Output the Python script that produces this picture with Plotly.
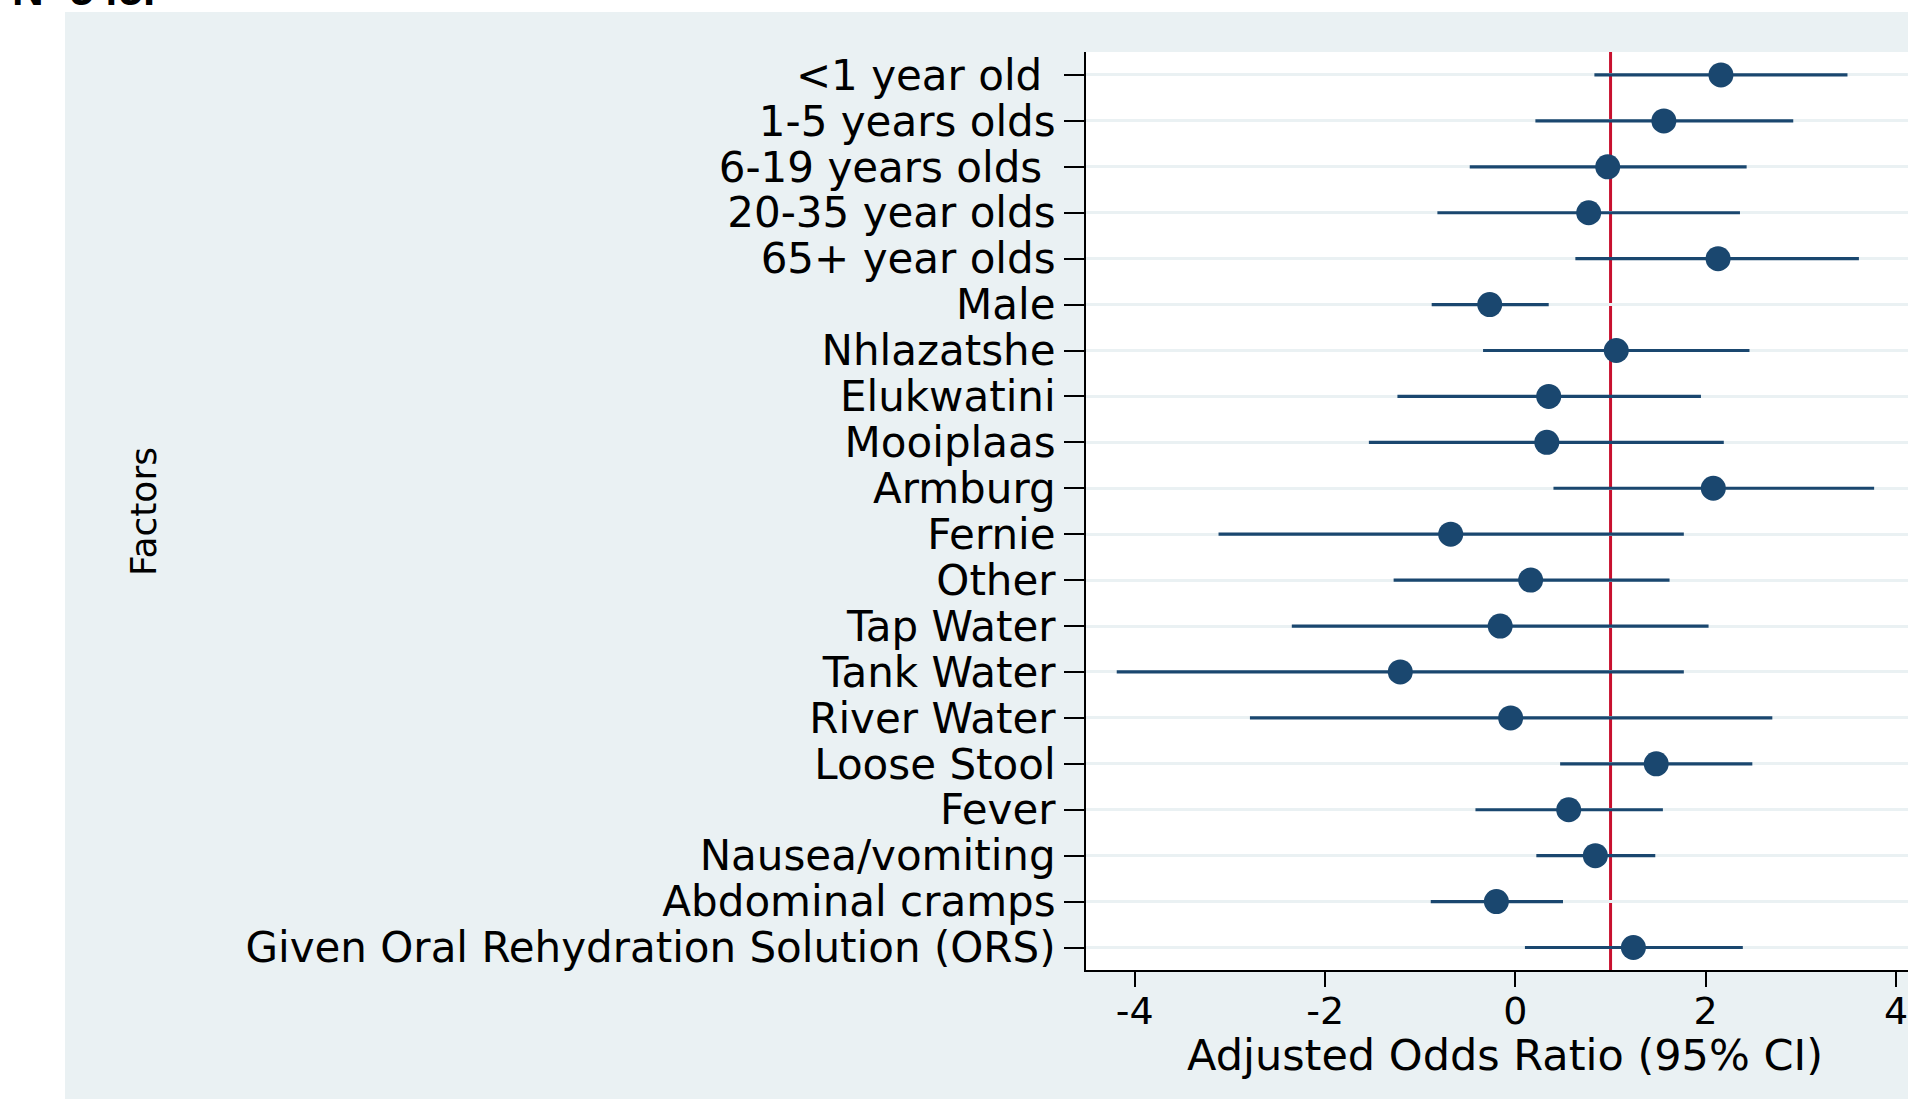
import plotly.graph_objects as go

factors = ["<1 year old\u00a0", "1-5 years olds", "6-19 years olds\u00a0", "20-35 year olds",
           "65+ year olds", "Male", "Nhlazatshe", "Elukwatini", "Mooiplaas", "Armburg",
           "Fernie", "Other", "Tap Water", "Tank Water", "River Water", "Loose Stool",
           "Fever", "Nausea/vomiting", "Abdominal cramps", "Given Oral Rehydration Solution (ORS)"]
aor = [2.16, 1.56, 0.97, 0.77, 2.13, -0.27, 1.06, 0.35, 0.33, 2.08,
       -0.68, 0.16, -0.16, -1.21, -0.05, 1.48, 0.56, 0.84, -0.20, 1.24]
ci_low = [0.83, 0.21, -0.48, -0.82, 0.63, -0.88, -0.34, -1.24, -1.54, 0.40,
          -3.12, -1.28, -2.35, -4.19, -2.79, 0.47, -0.42, 0.22, -0.89, 0.10]
ci_high = [3.49, 2.92, 2.43, 2.36, 3.61, 0.35, 2.46, 1.95, 2.19, 3.77,
           1.77, 1.62, 2.03, 1.77, 2.70, 2.49, 1.55, 1.47, 0.50, 2.39]
ref_line = 1
x_ticks = [-4, -2, 0, 2, 4]
x_tick_labels = ["-4", "-2", "0", "2", "4"]

navy = "#1A476F"
panel = "#EAF1F3"

fig = go.Figure()
fig.add_trace(go.Scatter(
    x=aor, y=factors, mode="markers",
    marker=dict(size=25, color=navy, line=dict(width=0)),
    error_x=dict(type="data", symmetric=False,
                 array=[h - m for h, m in zip(ci_high, aor)],
                 arrayminus=[m - l for m, l in zip(aor, ci_low)],
                 color=navy, thickness=3.2, width=0),
    showlegend=False, hoverinfo="skip"))

fig.add_shape(type="line", xref="x", yref="y domain", x0=ref_line, x1=ref_line, y0=0, y1=1,
              line=dict(color="#C8102E", width=3), layer="below")

# white strips outside the panel
fig.add_shape(type="rect", xref="paper", yref="paper", x0=-1086/822, x1=-1021/822,
              y0=-2, y1=2, fillcolor="white", line=dict(width=0), layer="above")
fig.add_shape(type="rect", xref="paper", yref="paper", x0=-2, x1=2,
              y0=(970-12)/918, y1=2, fillcolor="white", line=dict(width=0), layer="above")

fig.add_annotation(text="<b>N=545.</b>", xref="paper", yref="paper",
                   x=-1076/822, y=(970-16)/918, xanchor="left", yanchor="bottom",
                   showarrow=False, font=dict(family="Liberation Sans", size=44, color="black"))

fig.add_annotation(text="Factors", xref="paper", yref="paper",
                   x=(143-1086)/822, y=(970-511)/918, xanchor="center", yanchor="middle",
                   textangle=-90, showarrow=False,
                   font=dict(family="DejaVu Sans", size=36, color="black"))
fig.add_annotation(text="Adjusted Odds Ratio (95% CI)", xref="paper", yref="paper",
                   x=(1505-1086)/822, y=(970-1055)/918, xanchor="center", yanchor="middle",
                   showarrow=False, font=dict(family="DejaVu Sans", size=43, color="black"))

fig.update_layout(
    width=1908, height=1099,
    margin=dict(l=1086, r=0, t=52, b=129, pad=0),
    paper_bgcolor=panel, plot_bgcolor="white",
    font=dict(family="DejaVu Sans", color="black"),
    xaxis=dict(range=[-4.513, 4.126], tickmode="array", tickvals=x_ticks, ticktext=x_tick_labels,
               ticks="outside", ticklen=15, ticklabelstandoff=-9, ticklabeloverflow="allow",
               tickwidth=2, tickcolor="black", showline=True, linecolor="black", linewidth=2,
               showgrid=False, zeroline=False, tickfont=dict(size=38, color="black")),
    yaxis=dict(type="category", categoryorder="array", categoryarray=factors,
               tickmode="array", tickvals=factors, ticktext=factors,
               range=[19.49, -0.5], ticks="outside", ticklen=20, tickwidth=2,
               tickcolor="black", showline=True, linecolor="black", linewidth=2,
               showgrid=True, gridcolor=panel, gridwidth=3, zeroline=False,
               tickfont=dict(size=42, color="black")),
)

fig.write_html("out.html", config={"displayModeBar": False},
               post_script="document.body.style.margin='0';document.body.style.overflow='hidden';")
